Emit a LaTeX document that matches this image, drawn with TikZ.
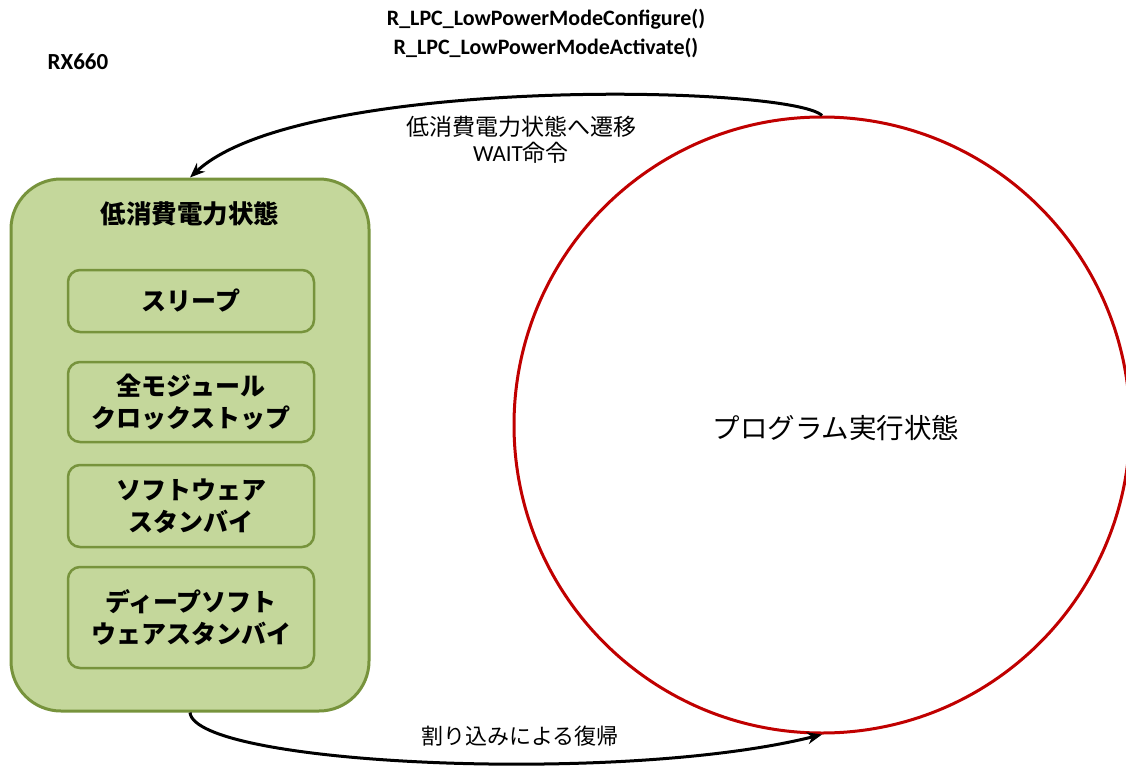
\documentclass[tikz,border=0pt]{standalone}
\usepackage{fontspec}
\usepackage{tikz}
\usetikzlibrary{positioning,arrows.meta}
\setmainfont{Carlito}
\newfontfamily\jp{Noto Sans CJK JP}
\definecolor{lpgreen}{HTML}{C4D79B}
\definecolor{lpborder}{HTML}{77933C}
\definecolor{progred}{HTML}{C00000}
\tikzset{
  modebox/.style={draw=lpborder, line width=2.5pt, rounded corners=12pt,
    minimum width=246pt, align=center, font=\jp\bfseries\fontsize{25}{32}\selectfont},
  flow/.style={line width=3pt, -{Stealth[length=15pt,width=12pt]}}
}

\begin{document}
\begin{tikzpicture}[x=1pt, y=-1pt]
        \useasboundingbox (0,0) rectangle (1126,765);

        \node[font=\bfseries\fontsize{23}{26}\selectfont] (chip) at (78, 62) {RX660};
        \node[font=\bfseries\fontsize{22}{29}\selectfont, align=center] (apis) at (546, 34)
            {R\_LPC\_LowPowerModeConfigure()\\R\_LPC\_LowPowerModeActivate()};

        % low power states
        \node[draw=lpborder, fill=lpgreen, line width=3pt, rounded corners=50pt,
              minimum width=358pt, minimum height=532pt] (lowpower) at (190, 445) {};
        \node[font=\jp\bfseries\fontsize{25.5}{30}\selectfont] (lptitle) at (190, 214) {低消費電力状態};

        \node[modebox, minimum height=62pt] (sleep) at (191, 301) {スリープ};
        \node[modebox, minimum height=80pt] (allclk) at (191, 402) {全モジュール\\クロックストップ};
        \node[modebox, minimum height=82pt] (swstby) at (191, 506) {ソフトウェア\\スタンバイ};
        \node[modebox, minimum height=101pt] (dpstby) at (191, 617.5) {ディープソフト\\ウェアスタンバイ};

        % program execution
        \node[circle, draw=progred, line width=3pt, minimum size=616pt] (prog) at (822, 425) {};
        \node[font=\jp\fontsize{27.5}{32}\selectfont] (progtext) at (836, 428) {プログラム実行状態};

        % transitions
        \draw[flow] (prog.north) .. controls (790, 85) and (300, 75) .. (lowpower.north);
        \draw[flow] (lowpower.south) .. controls (195, 765) and (620, 785) .. (prog.south);

        \node[align=center, font=\fontsize{23}{26}\selectfont] (tolow) at (521, 140)
            {\jp 低消費電力状態へ遷移\\WAIT{\jp 命令}};
        \node[font=\jp\fontsize{22}{26}\selectfont] (wakeup) at (520, 736) {割り込みによる復帰};
    \end{tikzpicture}
\end{document}
